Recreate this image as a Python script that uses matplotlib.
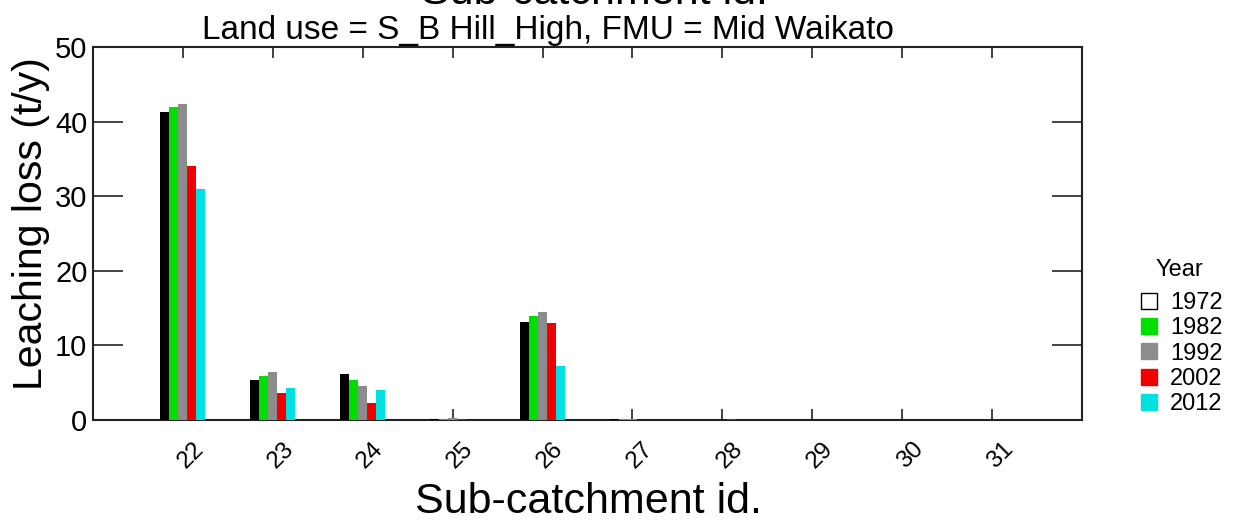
import matplotlib
matplotlib.use('Agg')
import matplotlib.pyplot as plt
from matplotlib.lines import Line2D
import numpy as np

plt.rcParams['font.family'] = ['Liberation Sans', 'DejaVu Sans']

ids = [22, 23, 24, 25, 26, 27, 28, 29, 30, 31]
years = ['1972', '1982', '1992', '2002', '2012']
y1972 = [41.3, 5.4, 6.2, 0.17, 13.2, 0.10, 0.03, 0.02, 0.02, 0.02]
y1982 = [41.9, 5.9, 5.4, 0.15, 13.9, 0.10, 0.05, 0.05, 0.05, 0.05]
y1992 = [42.4, 6.4, 4.6, 0.27, 14.5, 0.10, 0.03, 0.03, 0.03, 0.03]
y2002 = [34.1, 3.6, 2.3, 0.15, 13.0, 0.05, 0.15, 0.05, 0.05, 0.05]
y2012 = [30.9, 4.3, 4.0, 0.05, 7.2, 0.02, 0.02, 0.03, 0.03, 0.02]
series = [y1972, y1982, y1992, y2002, y2012]
colors = ['#000000', '#00e000', '#8c8c8c', '#f00000', '#00e0e0']
legend_faces = ['#ffffff', '#00e000', '#8c8c8c', '#f00000', '#00e0e0']

W, H = 1234, 521
fig = plt.figure(figsize=(W / 100, H / 100), dpi=100)
ax = fig.add_axes([93 / W, 1 - 420 / H, (1082 - 93) / W, (420 - 47) / H])

x = np.array(ids, dtype=float)
bw = 0.1
for k, (vals, c) in enumerate(zip(series, colors)):
    # bars sit on top of the bottom spine, as in the original
    ax.bar(x + (k - 2) * bw, vals, width=bw, color=c, linewidth=0, zorder=3)

ax.set_xlim(21, 32)
ax.set_ylim(0, 50)
ax.set_xticks(ids)
ax.set_xticklabels([str(i) for i in ids], rotation=45, ha='center', va='top',
                   rotation_mode='anchor', fontsize=17.5)
ax.set_yticks([0, 10, 20, 30, 40, 50])
ax.tick_params(axis='y', direction='in', length=21.6, width=1.2, left=True, right=True,
               labelsize=21, pad=4, color='#222222')
ax.tick_params(axis='x', direction='in', length=8, width=1.2, top=True, bottom=True,
               pad=20, color='#222222')
ax.set_axisbelow(True)
for s in ax.spines.values():
    s.set_linewidth(1.5)
    s.set_color('#222222')

fig.text(31 / W, 1 - 224 / H, 'Leaching loss (t/y)', rotation=90, ha='center', va='center',
         fontsize=29.5)
fig.text(588 / W, 1 - 513 / H, 'Sub-catchment id.', ha='center', va='baseline', fontsize=31)
fig.text(594 / W, 1 - 4 / H, 'Sub-catchment id.', ha='center', va='baseline', fontsize=31)
fig.text(548 / W, 1 - 39 / H, 'Land use = S_B Hill_High, FMU = Mid Waikato', ha='center',
         va='baseline', fontsize=24)

handles = [Line2D([], [], marker='s', linestyle='none', markersize=11,
                  markerfacecolor=f, markeredgecolor='black' if i == 0 else f, markeredgewidth=1)
           for i, f in enumerate(legend_faces)]
leg = fig.legend(handles, years, title='Year', loc='upper left',
                 bbox_to_anchor=(1137 / W, 1 - 259 / H), frameon=False, fontsize=17,
                 title_fontsize=17, labelspacing=0.14, handlelength=1.0, handletextpad=0.4,
                 borderpad=0, borderaxespad=0)
leg._legend_box.sep = 8

fig.savefig('out.png', dpi=100)
